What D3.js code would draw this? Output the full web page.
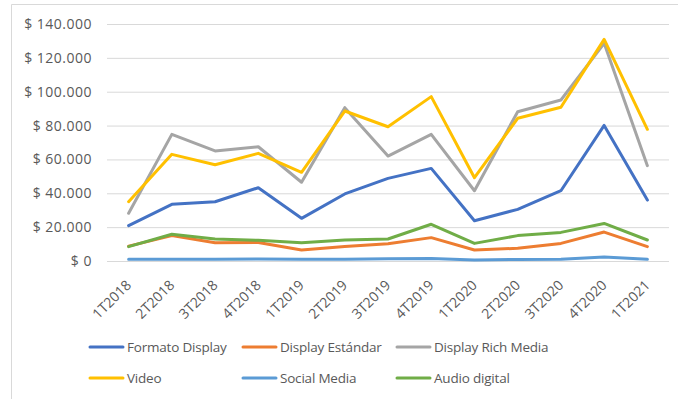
<!DOCTYPE html>
<html>
<head>
<meta charset="utf-8">
<script src="https://cdn.jsdelivr.net/npm/d3@7"></script>
<style>
  html, body { margin: 0; padding: 0; background: #fff; }
  svg { display: block; }
  text { font-family: "Open Sans", "Liberation Sans", sans-serif; fill: #595959; }
</style>
</head>
<body>
<svg id="chart" width="678" height="399"></svg>
<script>
// Quarterly categories
const quarters = ["1T2018","2T2018","3T2018","4T2018","1T2019","2T2019","3T2019","4T2019","1T2020","2T2020","3T2020","4T2020","1T2021"];

// Investment per format and quarter
const formatoDisplay   = [20900, 33500, 35000, 43300, 25200, 39600, 48800, 54700, 23800, 30500, 41500, 80100, 36000];
const displayEstandar  = [8800, 15000, 10800, 10900, 6500, 8500, 10200, 13800, 6500, 7500, 10400, 17100, 8500];
const displayRichMedia = [28200, 74800, 65000, 67500, 46500, 90600, 62000, 74800, 41500, 88200, 95100, 128600, 56300];
const video            = [35000, 63000, 56900, 63600, 52400, 88600, 79300, 97100, 49200, 84300, 90800, 130900, 77800];
const socialMedia      = [1000, 1000, 1100, 1200, 1000, 1100, 1400, 1500, 600, 900, 1100, 2400, 1000];
const audioDigital     = [8500, 15800, 13000, 12200, 10800, 12400, 13000, 21700, 10400, 15000, 16900, 22200, 12400];

const yTicks = [0, 20000, 40000, 60000, 80000, 100000, 120000, 140000];

const seriesNames  = ["Formato Display", "Display Estándar", "Display Rich Media", "Video", "Social Media", "Audio digital"];
const seriesColors = ["#4472C4", "#ED7D31", "#A5A5A5", "#FFC000", "#5B9BD5", "#70AD47"];
const seriesValues = [formatoDisplay, displayEstandar, displayRichMedia, video, socialMedia, audioDigital];

const svg = d3.select("#chart");

// chart frame
svg.append("path")
  .attr("d", "M11.5,399 V4.5 H678")
  .attr("fill", "none")
  .attr("stroke", "#d9d9d9")
  .attr("stroke-width", 1);

const margin = { left: 107, right: 669, top: 24, bottom: 261 };

const x = d3.scalePoint()
  .domain(quarters)
  .range([margin.left, margin.right])
  .padding(0.5);

const y = d3.scaleLinear()
  .domain([0, 140000])
  .range([margin.bottom, margin.top]);

const fmt = v => "$ " + (v === 0 ? "0" : d3.format(",")(v).replace(/,/g, "."));

// gridlines + y labels
const yAxis = svg.append("g")
  .attr("transform", `translate(${margin.left},0)`)
  .call(d3.axisLeft(y).tickValues(yTicks).tickSize(-(margin.right - margin.left)).tickPadding(15).tickFormat(fmt));
yAxis.select(".domain").remove();
yAxis.selectAll(".tick line").attr("stroke", "#d9d9d9").attr("stroke-width", 1);
yAxis.selectAll("text")
  .attr("font-size", 14)
  .attr("letter-spacing", "0.5px")
  .style("fill", "#595959");

// x axis labels, rotated
const xAxis = svg.append("g")
  .attr("transform", `translate(0,${margin.bottom})`)
  .call(d3.axisBottom(x).tickSize(0).tickPadding(0));
xAxis.select(".domain").remove();
xAxis.selectAll("text")
  .attr("font-size", 14)
  .style("fill", "#595959")
  .attr("text-anchor", "end")
  .attr("y", 0)
  .attr("dy", 0)
  .attr("transform", "translate(3,25) rotate(-45)");

// series lines
const line = d3.line()
  .x((d, i) => x(quarters[i]))
  .y(d => y(d));

seriesValues.forEach((vals, k) => {
  svg.append("path")
    .datum(vals)
    .attr("fill", "none")
    .attr("stroke", seriesColors[k])
    .attr("stroke-width", 3)
    .attr("stroke-linejoin", "round")
    .attr("stroke-linecap", "round")
    .attr("d", line);
});

// legend
const legendCols = [90, 243, 397];
const legendRows = [347, 378];
const legend = svg.append("g");
seriesNames.forEach((name, k) => {
  const cx = legendCols[k % 3];
  const cy = legendRows[Math.floor(k / 3)];
  legend.append("line")
    .attr("x1", cx).attr("x2", cx + 33)
    .attr("y1", cy).attr("y2", cy)
    .attr("stroke", seriesColors[k])
    .attr("stroke-width", 3)
    .attr("stroke-linecap", "round");
  legend.append("text")
    .attr("x", cx + 37)
    .attr("y", cy)
    .attr("dy", "0.35em")
    .attr("font-size", 13.5)
    .attr("letter-spacing", "-0.2px")
    .text(name);
});
</script>
</body>
</html>
